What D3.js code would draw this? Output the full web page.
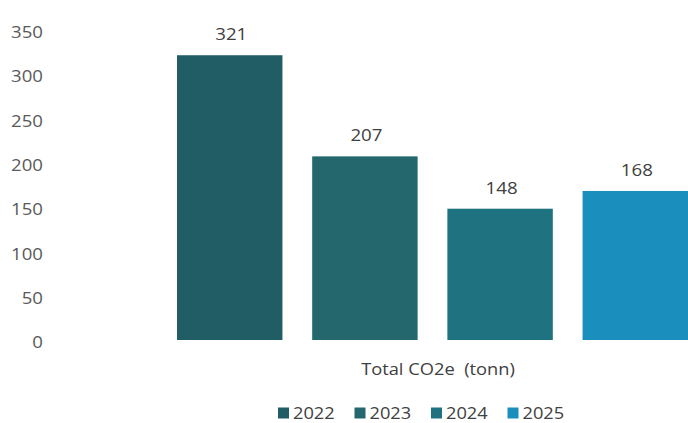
<!DOCTYPE html>
<html>
<head>
<meta charset="utf-8">
<script src="https://cdn.jsdelivr.net/npm/d3@7"></script>
<style>
html,body{margin:0;padding:0;background:#fff;}
svg{display:block;}
text{font-family:"Open Sans","Lato",sans-serif;}
</style>
</head>
<body>
<svg id="chart" width="688" height="423"></svg>
<script>
const category = "Total CO2e  (tonn)";
const years = ["2022", "2023", "2024", "2025"];
const values = [321, 207, 148, 168];
const colors = ["#215d64", "#24686e", "#1f7280", "#1a8fbd"];
const yTicks = [0, 50, 100, 150, 200, 250, 300, 350];

const svg = d3.select("#chart");

const y = d3.scaleLinear().domain([0, 350]).range([340, 29.5]);
const x = d3.scaleBand().domain(years).range([177, 688]).paddingInner(0.22).paddingOuter(0);

// y axis (labels only)
const yAxis = d3.axisLeft(y).tickValues(yTicks).tickSize(0).tickPadding(0);
const gy = svg.append("g").attr("transform", "translate(43,0)").call(yAxis);
gy.select(".domain").remove();
gy.selectAll("text")
  .attr("x", 0)
  .attr("dy", "0.32em")
  .attr("y", 3)
  .attr("transform", "scale(1.2,1)")
  .style("font-size", "15.5px")
  .style("fill", "#595959")
  .style("font-family", "'Open Sans', sans-serif");

// bars
svg.append("g").selectAll("rect")
  .data(values)
  .join("rect")
  .attr("x", (d, i) => x(years[i]))
  .attr("y", d => y(d))
  .attr("width", x.bandwidth())
  .attr("height", d => y(0) - y(d))
  .attr("fill", (d, i) => colors[i]);

// value labels
svg.append("g").selectAll("text")
  .data(values)
  .join("text")
  .attr("transform", (d, i) => `translate(${x(years[i]) + x.bandwidth() / 2 + 1.5},${y(d) - 15}) scale(1.1,1)`)
  .attr("text-anchor", "middle")
  .style("font-size", "17px")
  .style("fill", "#404040")
  .text(d => d);

// category axis title
svg.append("text")
  .attr("transform", "translate(438,375) scale(1.18,1)")
  .attr("text-anchor", "middle")
  .style("font-size", "15.5px")
  .style("fill", "#404040")
  .style("white-space", "pre")
  .attr("xml:space", "preserve")
  .text(category);

// legend
const legend = svg.append("g").attr("transform", "translate(278,413)");
const itemStep = 76.5;
years.forEach((yr, i) => {
  const g = legend.append("g").attr("transform", `translate(${i * itemStep},0)`);
  g.append("rect").attr("x", 0).attr("y", -5.5).attr("width", 11).attr("height", 11).attr("fill", colors[i]);
  g.append("text").attr("transform", "translate(15,0) scale(1.14,1)").attr("dy", "0.36em")
    .style("font-size", "16px").style("fill", "#404040").text(yr);
});
</script>
</body>
</html>
